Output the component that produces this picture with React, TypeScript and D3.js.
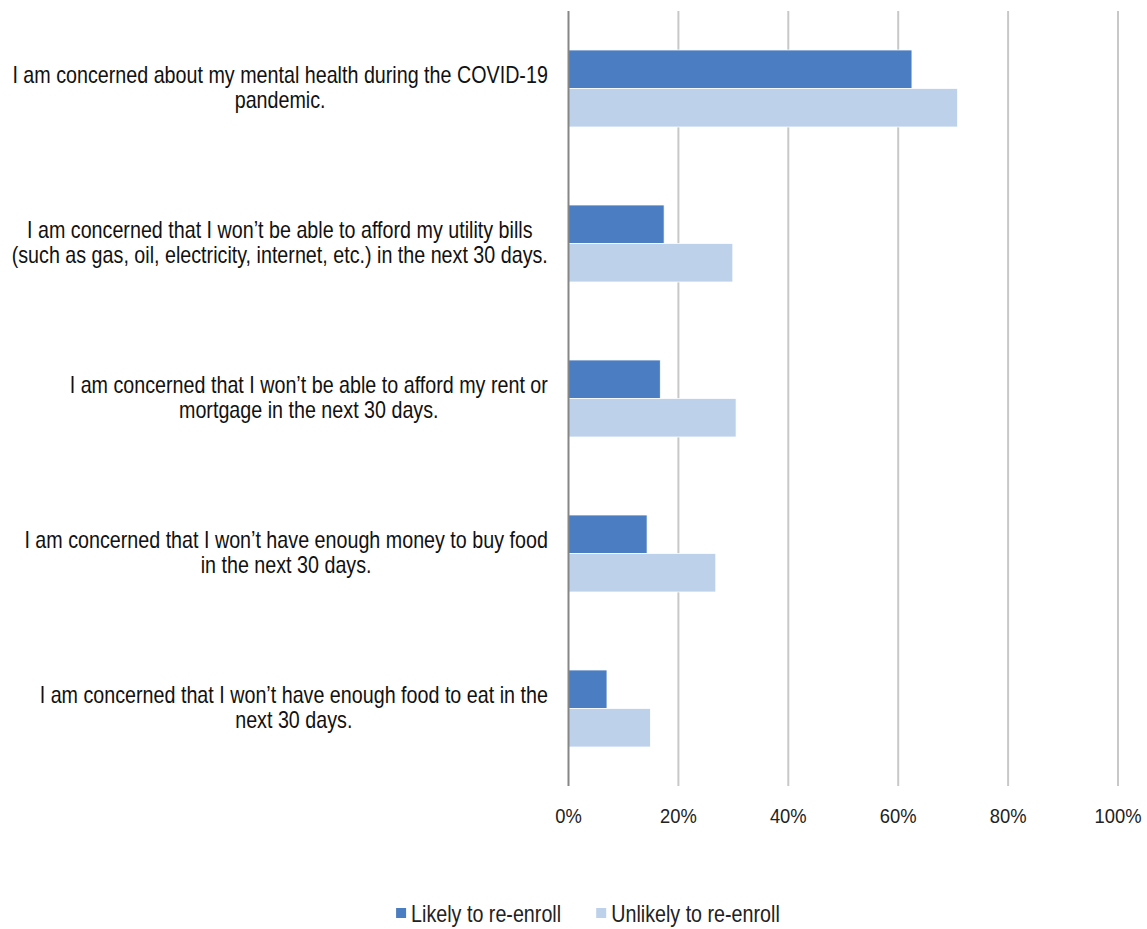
import React, { useEffect, useRef } from "react";
import * as d3 from "d3";

const categories: string[][] = [
  ["I am concerned about my mental health during the COVID-19", "pandemic."],
  ["I am concerned that I won\u2019t be able to afford my utility bills", "(such as gas, oil, electricity, internet, etc.) in the next 30 days."],
  ["I am concerned that I won\u2019t be able to afford my rent or", "mortgage in the next 30 days."],
  ["I am concerned that I won\u2019t have enough money to buy food", "in the next 30 days."],
  ["I am concerned that I won\u2019t have enough food to eat in the", "next 30 days."],
];
const likely = [62.5, 17.4, 16.7, 14.3, 7.0];
const unlikely = [70.8, 29.9, 30.5, 26.8, 14.9];
const seriesNames = ["Likely to re-enroll", "Unlikely to re-enroll"];
const ticks = [0, 20, 40, 60, 80, 100];

const W = 1147, H = 929;
const FONT = "'Liberation Sans', Arial, sans-serif";
const FS = 23;
const SX = 0.857;
const TFS = 20;
const TSX = 0.92;
const colors = ["#4a7dc1", "#bdd2ea"];

export default function App() {
  const ref = useRef<SVGSVGElement>(null);
  useEffect(() => {
    const svg = d3.select(ref.current);
    svg.selectAll("*").remove();
    const x = d3.scaleLinear().domain([0, 100]).range([568.5, 1118]);
    const y = d3.scaleBand().domain(categories.map((_, i) => String(i))).range([11, 786]);
    const inner = d3.scaleBand().domain(["0", "1"]).range([0, 77]);

    // grid
    svg.append("g").selectAll("line").data(ticks.filter(t => t > 0)).join("line")
      .attr("x1", d => x(d)).attr("x2", d => x(d)).attr("y1", 11).attr("y2", 786)
      .attr("stroke", "#c8c8c8").attr("stroke-width", 2);

    // bars
    const off = (y.bandwidth() - 77) / 2;
    const g = svg.append("g");
    [likely, unlikely].forEach((vals, s) => {
      g.selectAll(`rect.s${s}`).data(vals).join("rect").attr("class", `s${s}`)
        .attr("x", x(0)).attr("y", (_, i) => y(String(i))! + off + inner(String(s))!)
        .attr("width", d => x(d) - x(0)).attr("height", inner.bandwidth())
        .attr("fill", colors[s]).attr("stroke", "#ffffff").attr("stroke-width", 0.75);
    });

    // axis line
    svg.append("line").attr("x1", x(0)).attr("x2", x(0)).attr("y1", 11).attr("y2", 786)
      .attr("stroke", "#868686").attr("stroke-width", 2);

    // tick labels
    svg.append("g").selectAll("text").data(ticks).join("text")
      .attr("transform", d => `translate(${x(d)},823) scale(${TSX},1)`)
      .attr("text-anchor", "middle")
      .attr("font-family", FONT).attr("font-size", TFS).attr("fill", "#222")
      .text(d => `${d}%`);

    // category labels
    categories.forEach((lines, i) => {
      const cy = y(String(i))! + y.bandwidth() / 2;
      const grp = svg.append("g");
      const t = grp.append("text").attr("font-family", FONT).attr("font-size", FS)
        .attr("fill", "#111").attr("text-anchor", "middle");
      const tspans = lines.map((l, k) => t.append("tspan").attr("x", 0).attr("y", cy - 5.5 + k * 25.5).text(l));
      const w = SX * Math.max(...tspans.map(ts => (ts.node() as SVGTSpanElement).getComputedTextLength()));
      const cx = Math.max(548 - w / 2, w / 2);
      grp.attr("transform", `translate(${cx},0) scale(${SX},1)`);
    });

    // legend
    const lg = svg.append("g");
    const items = seriesNames.map((n, s) => {
      const t = lg.append("text").attr("font-family", FONT).attr("font-size", FS).attr("fill", "#222").text(n);
      return { t, w: SX * (t.node() as SVGTextElement).getComputedTextLength(), s };
    });
    const sq = 10, gap1 = 5, gap2 = 35;
    const total = items.reduce((a, it) => a + sq + gap1 + it.w, 0) + gap2 * (items.length - 1);
    let cx = 588 - total / 2;
    items.forEach(it => {
      lg.append("rect").attr("x", cx).attr("y", 908).attr("width", sq).attr("height", sq).attr("fill", colors[it.s]);
      it.t.attr("transform", `translate(${cx + sq + gap1},922) scale(${SX},1)`);
      cx += sq + gap1 + it.w + gap2;
    });
  }, []);
  return (
    <svg ref={ref} width={W} height={H} style={{ position: "absolute", left: 0, top: 0, background: "#fff" }} />
  );
}
